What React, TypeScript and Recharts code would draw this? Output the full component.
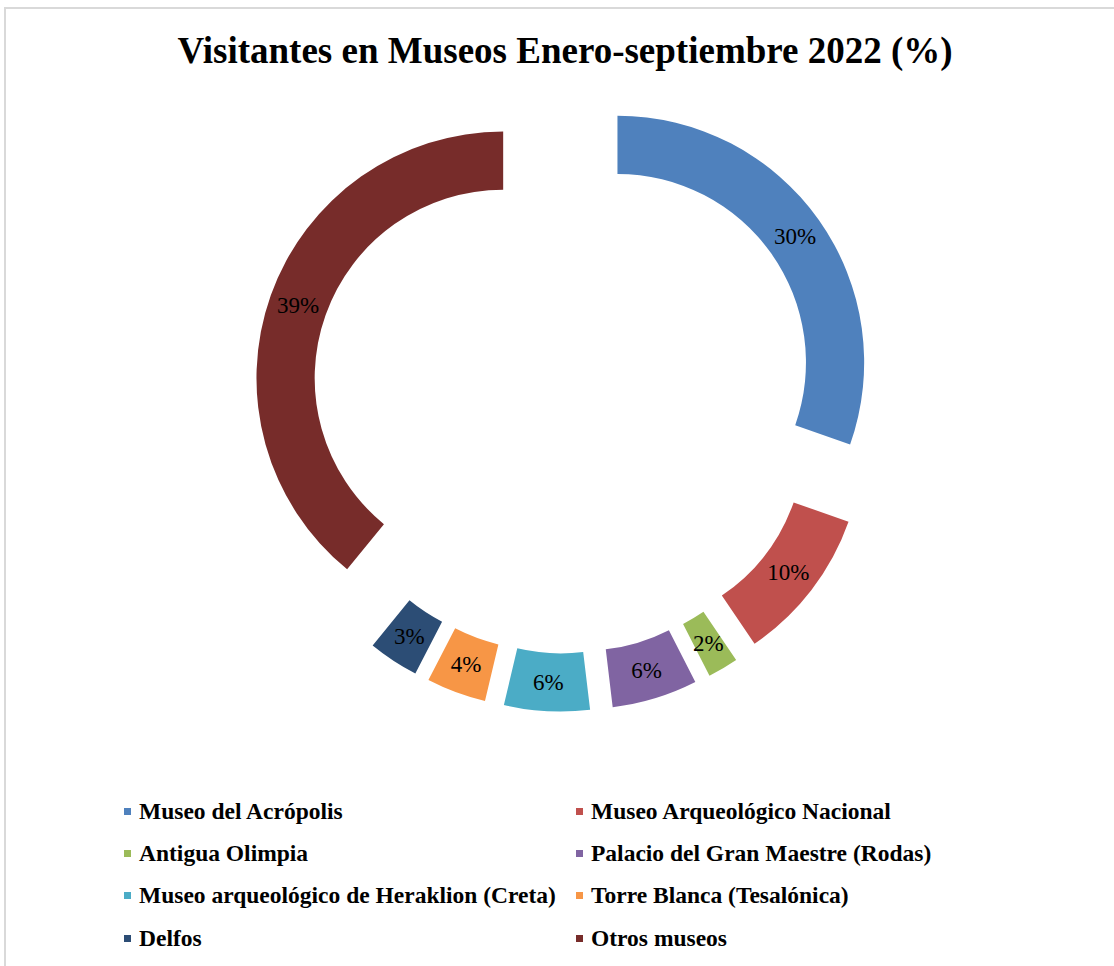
import React from 'react';
import { PieChart, Pie, Cell, Legend } from 'recharts';

const museums = [
  'Museo del Acrópolis',
  'Museo Arqueológico Nacional',
  'Antigua Olimpia',
  'Palacio del Gran Maestre (Rodas)',
  'Museo arqueológico de Heraklion (Creta)',
  'Torre Blanca (Tesalónica)',
  'Delfos',
  'Otros museos',
];
const shares = [30.4, 10.1, 2.0, 5.6, 5.6, 3.9, 3.3, 39.1];
const colors = ['#4f81bd', '#c0504d', '#9bbb59', '#8064a2', '#4bacc6', '#f79646', '#2c4d75', '#772c2a'];

const data = museums.map((name, i) => ({ name, value: shares[i] }));

// every slice is pulled out along its middle angle (exploded doughnut)
const EXPLODE = 65;
const total = shares.reduce((a, b) => a + b, 0);
const offsets = shares.map((v, i) => {
  const before = shares.slice(0, i).reduce((a, b) => a + b, 0);
  const a = ((before + v / 2) / total) * 2 * Math.PI;
  return { dx: EXPLODE * Math.sin(a), dy: -EXPLODE * Math.cos(a) };
});

const serif = '"Liberation Serif", "Times New Roman", serif';

const renderLabel = (p: any) => {
  const rad = (-p.midAngle * Math.PI) / 180;
  const r = (p.innerRadius + p.outerRadius) / 2 + EXPLODE;
  return (
    <text
      x={p.cx + r * Math.cos(rad)}
      y={p.cy + r * Math.sin(rad)}
      textAnchor="middle"
      dominantBaseline="central"
      fontSize={23}
      fontFamily={serif}
      fill="#000"
    >
      {`${Math.round(p.percent * 100)}%`}
    </text>
  );
};

// legend keeps the data order (Recharts would sort it by name)
const renderLegend = () => (
  <div
    style={{
      display: 'grid',
      gridTemplateColumns: '452px auto',
      paddingLeft: 124,
      fontFamily: serif,
      fontWeight: 'bold',
      fontSize: 23.5,
      color: '#000',
    }}
  >
    {museums.map((name, i) => (
      <div key={name} style={{ display: 'flex', alignItems: 'center', height: 42.3, whiteSpace: 'nowrap' }}>
        <span style={{ width: 7, height: 7, background: colors[i], marginRight: 8, flex: 'none' }} />
        <span>{name}</span>
      </div>
    ))}
  </div>
);

export default function App() {
  return (
    <div style={{ position: 'absolute', left: 0, top: 0, width: 1114, height: 966, overflow: 'hidden', background: '#fff' }}>
      <div
        style={{
          position: 'absolute',
          left: 4,
          top: 7,
          width: 1200,
          height: 1100,
          border: '2px solid #d9d9d9',
        }}
      />
      <div
        style={{
          position: 'absolute',
          left: 8,
          top: 32,
          width: 1114,
          textAlign: 'center',
          fontFamily: serif,
          fontWeight: 'bold',
          fontSize: 37,
          lineHeight: '37px',
          whiteSpace: 'nowrap',
        }}
      >
        Visitantes en Museos Enero-septiembre 2022 (%)
      </div>
      <div style={{ position: 'absolute', left: 0, top: 0 }}>
        <PieChart width={1114} height={966} margin={{ top: 0, right: 0, bottom: 0, left: 0 }}>
          <Pie
            data={data}
            dataKey="value"
            nameKey="name"
            cx={564.4}
            cy={400}
            innerRadius={188.5}
            outerRadius={246.7}
            startAngle={90}
            endAngle={-270}
            stroke="none"
            label={renderLabel}
            labelLine={false}
            isAnimationActive={false}
          >
            {data.map((d, i) => {
              const t = `translate(${offsets[i].dx}px, ${offsets[i].dy}px)`;
              return (
                <Cell
                  key={d.name}
                  fill={colors[i]}
                  style={{ transform: t }}
                />
              );
            })}
          </Pie>
          <Legend
            content={renderLegend}
            wrapperStyle={{ position: 'absolute', top: 790, left: 0, width: 1114 }}
          />
        </PieChart>
      </div>
    </div>
  );
}
